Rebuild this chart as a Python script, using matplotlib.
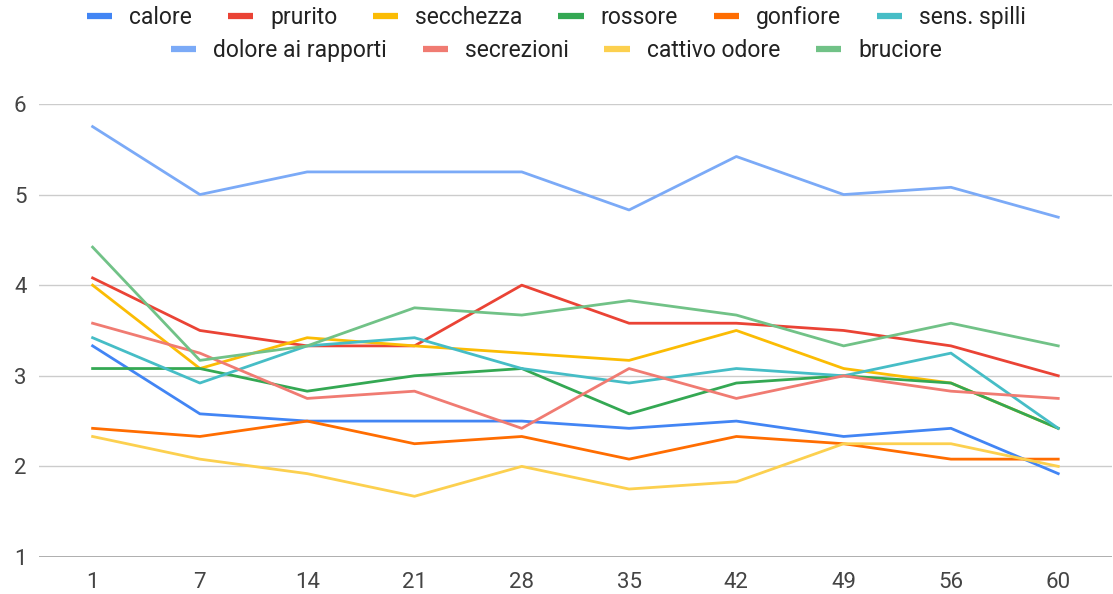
import matplotlib
matplotlib.use("Agg")
import matplotlib.pyplot as plt
from matplotlib.lines import Line2D

plt.rcParams['font.family'] = ['Roboto', 'DejaVu Sans']

days = ["1", "7", "14", "21", "28", "35", "42", "49", "56", "60"]

calore = [3.33, 2.58, 2.5, 2.5, 2.5, 2.42, 2.5, 2.33, 2.42, 1.92]
prurito = [4.08, 3.5, 3.33, 3.33, 4.0, 3.58, 3.58, 3.5, 3.33, 3.0]
secchezza = [4.0, 3.08, 3.42, 3.33, 3.25, 3.17, 3.5, 3.08, 2.92, 2.42]
rossore = [3.08, 3.08, 2.83, 3.0, 3.08, 2.58, 2.92, 3.0, 2.92, 2.42]
gonfiore = [2.42, 2.33, 2.5, 2.25, 2.33, 2.08, 2.33, 2.25, 2.08, 2.08]
sens_spilli = [3.42, 2.92, 3.33, 3.42, 3.08, 2.92, 3.08, 3.0, 3.25, 2.42]
dolore = [5.75, 5.0, 5.25, 5.25, 5.25, 4.83, 5.42, 5.0, 5.08, 4.75]
secrezioni = [3.58, 3.25, 2.75, 2.83, 2.42, 3.08, 2.75, 3.0, 2.83, 2.75]
cattivo_odore = [2.33, 2.08, 1.92, 1.67, 2.0, 1.75, 1.83, 2.25, 2.25, 2.0]
bruciore = [4.42, 3.17, 3.33, 3.75, 3.67, 3.83, 3.67, 3.33, 3.58, 3.33]

names = ["calore", "prurito", "secchezza", "rossore", "gonfiore", "sens. spilli",
         "dolore ai rapporti", "secrezioni", "cattivo odore", "bruciore"]
series = [calore, prurito, secchezza, rossore, gonfiore, sens_spilli,
          dolore, secrezioni, cattivo_odore, bruciore]
colors = ["#4285F4", "#EA4335", "#FBBC04", "#34A853", "#FF6D01", "#46BDC6",
          "#7BAAF7", "#F07B72", "#FCD04F", "#71C287"]

fig = plt.figure(figsize=(11.13, 5.94), dpi=100)
ax = fig.add_axes([0.035, 0.0623, 0.964, 0.7627])

x = list(range(len(days)))
for vals, c, n in zip(series, colors, names):
    ax.plot(x, vals, color=c, lw=2.0, label=n, clip_on=False)

ax.set_xlim(-0.5, len(days) - 0.5)
ax.set_ylim(1, 6)
ax.set_yticks([1, 2, 3, 4, 5, 6])
ax.set_xticks(x)
ax.set_xticklabels(days)
ax.grid(axis='y', color='#cccccc', lw=1)
ax.set_axisbelow(True)
for s in ax.spines.values():
    s.set_visible(False)
ax.axhline(1, color='#999999', lw=1.2, zorder=0)
ax.tick_params(length=0, labelsize=16, labelcolor='#444444')
ax.tick_params(axis='x', pad=11)
ax.tick_params(axis='y', pad=9)

handles = [Line2D([], [], color=c, lw=4.5, solid_capstyle='butt') for c in colors]
leg_kw = dict(loc='center', frameon=False, fontsize=16.5, handlelength=1.1,
              columnspacing=1.55, handletextpad=0.75)
leg1 = fig.legend(handles[:6], names[:6], bbox_to_anchor=(0.5, 0.970), ncol=6, **leg_kw)
leg2 = fig.legend(handles[6:], names[6:], bbox_to_anchor=(0.5, 0.915), ncol=4, **leg_kw)
for leg in (leg1, leg2):
    for t in leg.get_texts():
        t.set_color('#222222')

fig.savefig("out.png", dpi=100)
